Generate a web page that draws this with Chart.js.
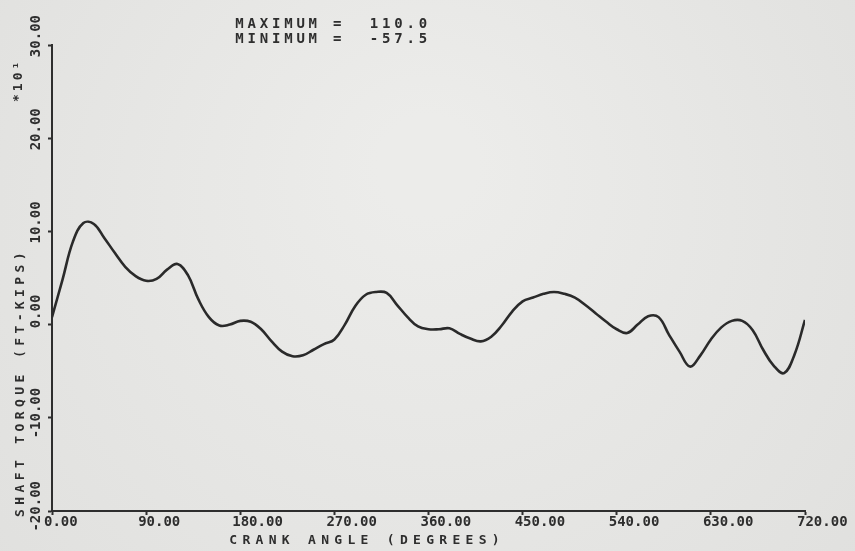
<!DOCTYPE html>
<html>
<head>
<meta charset="utf-8">
<script src="https://cdn.jsdelivr.net/npm/chart.js@4.4.1/dist/chart.umd.min.js"></script>
<style>
  html, body { margin: 0; padding: 0; background: #e5e5e3; }
  canvas { display: block; }
</style>
</head>
<body>
<canvas id="torque" width="855" height="551"></canvas>
<script>
// crank angle in degrees, one reading every 10 deg
const crankAngle = [
  0, 10, 20, 30, 40, 50, 60, 70, 80, 90,
  100, 110, 120, 130, 140, 150, 160, 170, 180, 190,
  200, 210, 220, 230, 240, 250, 260, 270, 280, 290,
  300, 310, 320, 330, 340, 350, 360, 370, 380, 390,
  400, 410, 420, 430, 440, 450, 460, 470, 480, 490,
  500, 510, 520, 530, 540, 550, 560, 570, 580, 590,
  600, 610, 620, 630, 640, 650, 660, 670, 680, 690,
  700, 710, 720,
];

// shaft torque in ft-kips * 10^1
const shaftTorque = [
  0.8, 4.8, 8.9, 10.9, 10.8, 9.3, 7.7, 6.2, 5.2, 4.7,
  4.9, 5.9, 6.5, 5.3, 2.7, 0.8, -0.1, 0.0, 0.4, 0.3,
  -0.5, -1.8, -2.9, -3.4, -3.3, -2.7, -2.1, -1.6, 0.0, 2.0,
  3.2, 3.5, 3.4, 2.1, 0.8, -0.2, -0.5, -0.5, -0.4, -1.0,
  -1.5, -1.8, -1.3, -0.1, 1.4, 2.5, 2.9, 3.3, 3.5, 3.3,
  2.9, 2.1, 1.2, 0.3, -0.5, -0.9, 0.0, 0.9, 0.8, -1.1,
  -2.9, -4.5, -3.3, -1.6, -0.3, 0.4, 0.4, -0.6, -2.7, -4.4,
  -5.2, -3.2, 0.5,
];

const X_TICKS = [0, 90, 180, 270, 360, 450, 540, 630, 720];
const Y_TICKS = [-20, -10, 0, 10, 20, 30];

const SUMMARY = ["MAXIMUM =  110.0", "MINIMUM =  -57.5"];
const X_TITLE = "CRANK ANGLE (DEGREES)";
const Y_TITLE = "SHAFT TORQUE (FT-KIPS)";
const Y_MULT = "*10\u00B9";

const INK = "#2e2e2e";
const MONO = '"DejaVu Sans Mono", "Liberation Mono", monospace';

// paper background
const paperPlugin = {
  id: "paper",
  beforeDraw(chart) {
    const { ctx, width, height } = chart;
    ctx.save();
    const g = ctx.createRadialGradient(width * 0.5, height * 0.3, 50, width * 0.5, height * 0.45, width * 0.7);
    g.addColorStop(0, "#ececea");
    g.addColorStop(1, "#dfdfdd");
    ctx.fillStyle = g;
    ctx.fillRect(0, 0, width, height);
    ctx.restore();
  },
};

// the typed labels of the old plot: wide letter spacing, so drawn here
const labelPlugin = {
  id: "scanLabels",
  afterDraw(chart) {
    const { ctx } = chart;
    const x = chart.scales.x;
    const y = chart.scales.y;
    ctx.save();
    ctx.fillStyle = INK;
    ctx.textAlign = "left";
    ctx.textBaseline = "middle";

    // max / min summary above the plot
    ctx.font = "bold 14px " + MONO;
    ctx.letterSpacing = "3.8px";
    const sx = x.getPixelForValue(180) - 5;
    ctx.fillText(SUMMARY[0], sx, y.top - 21);
    ctx.fillText(SUMMARY[1], sx, y.top - 6);

    // x axis title
    ctx.font = "bold 13px " + MONO;
    ctx.letterSpacing = "5.3px";
    ctx.fillText(X_TITLE, x.getPixelForValue(180) - 11, x.bottom - 10);

    // y axis title, reads bottom to top
    ctx.save();
    ctx.translate(21, y.bottom + 6);
    ctx.rotate(-Math.PI / 2);
    ctx.letterSpacing = "4.4px";
    ctx.fillText(Y_TITLE, 0, 0);
    ctx.restore();

    // multiplier near the top of the y axis
    ctx.save();
    ctx.translate(19, y.top + 57);
    ctx.rotate(-Math.PI / 2);
    ctx.letterSpacing = "3px";
    ctx.fillText(Y_MULT, 0, 0);
    ctx.restore();

    ctx.restore();
  },
};

const canvas = document.getElementById("torque");

new Chart(canvas, {
  type: "line",
  data: {
    labels: crankAngle,
    datasets: [
      {
        data: crankAngle.map((a, i) => ({ x: a, y: shaftTorque[i] })),
        borderColor: "#2a2a2a",
        borderWidth: 2.6,
        pointRadius: 0,
        tension: 0.4,
        fill: false,
      },
    ],
  },
  options: {
    responsive: false,
    animation: false,
    layout: { padding: { left: 0, top: 45, right: 50, bottom: 0 } },
    plugins: {
      legend: { display: false },
      tooltip: { enabled: false },
    },
    scales: {
      x: {
        type: "linear",
        min: 0,
        max: 720,
        afterBuildTicks: (scale) => {
          scale.ticks = X_TICKS.map((v) => ({ value: v }));
        },
        afterFit: (scale) => {
          scale.height = 40;
          scale.paddingLeft = 0;
          scale.paddingRight = 0;
        },
        grid: {
          drawOnChartArea: false,
          drawTicks: true,
          tickLength: 4,
          color: INK,
          tickWidth: 2,
        },
        border: { display: true, color: INK, width: 2 },
        ticks: {
          autoSkip: false,
          maxRotation: 0,
          align: "start",
          labelOffset: -8,
          padding: 0,
          color: INK,
          font: { family: MONO, size: 14, weight: "bold", lineHeight: 1 },
          callback: (v) => Number(v).toFixed(2),
        },
      },
      y: {
        type: "linear",
        min: -20,
        max: 30,
        afterBuildTicks: (scale) => {
          scale.ticks = Y_TICKS.map((v) => ({ value: v }));
        },
        afterFit: (scale) => {
          scale.width = 52;
          scale.paddingTop = 0;
          scale.paddingBottom = 0;
        },
        grid: {
          drawOnChartArea: false,
          drawTicks: true,
          tickLength: 4,
          color: INK,
          tickWidth: 2,
        },
        border: { display: true, color: INK, width: 2 },
        ticks: {
          minRotation: 90,
          maxRotation: 90,
          crossAlign: "near",
          labelOffset: -30,
          padding: 12,
          color: INK,
          font: { family: MONO, size: 14, weight: "bold" },
          callback: (v) => Number(v).toFixed(2),
        },
      },
    },
  },
  plugins: [paperPlugin, labelPlugin],
});
</script>
</body>
</html>
